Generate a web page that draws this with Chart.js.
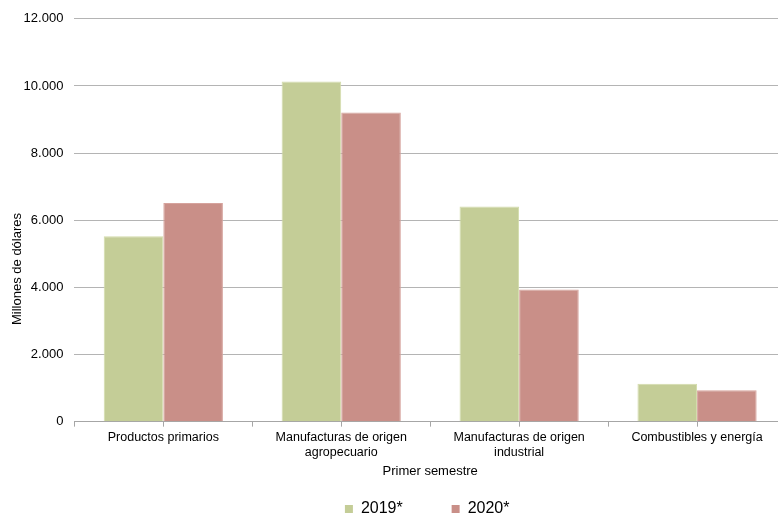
<!DOCTYPE html>
<html>
<head>
<meta charset="utf-8">
<script src="https://cdn.jsdelivr.net/npm/chart.js@4"></script>
<style>
  html, body { margin: 0; padding: 0; background: #fff; overflow: hidden; }
  #wrap { width: 786px; height: 527px; }
</style>
</head>
<body>
<div id="wrap"><canvas id="chart"></canvas></div>
<script>
const categories = [
  'Productos primarios',
  ['Manufacturas de origen', 'agropecuario'],
  ['Manufacturas de origen', 'industrial'],
  'Combustibles y energía'
];
const years = ['2019*', '2020*'];
const values2019 = [5520, 10130, 6410, 1130];
const values2020 = [6510, 9210, 3940, 935];
const yTicks = [0, 2000, 4000, 6000, 8000, 10000, 12000];

const font = "'Liberation Sans', Arial, sans-serif";
Chart.defaults.font.family = font;
Chart.defaults.color = '#000';

// legend centred under the visible plot, plus small tick marks at category centres
const extras = {
  id: 'extras',
  afterLayout(chart) {
    const lg = chart.legend, area = chart.chartArea;
    const dx = (area.left + 778) / 2 - (lg.left + lg.right) / 2 + 1;
    lg.left += dx; lg.right += dx;
  },
  afterDraw(chart) {
    const x = chart.scales.x, c = chart.ctx;
    c.save();
    c.fillStyle = '#a6a6a6';
    for (let i = 0; i < categories.length; i++) {
      const px = Math.round(x.getPixelForValue(i));
      c.fillRect(px, x.top, 1, 5);
    }
    c.restore();
  }
};

const ctx = document.getElementById('chart').getContext('2d');
const chart = new Chart(ctx, {
  type: 'bar',
  data: {
    labels: categories,
    datasets: [{
      label: years[0],
      data: values2019,
      backgroundColor: '#c4cd97',
      borderColor: '#d3dcaa',
      borderWidth: 1
    }, {
      label: years[1],
      data: values2020,
      backgroundColor: '#c98f88',
      borderColor: '#d6a39d',
      borderWidth: 1
    }]
  },
  plugins: [extras],
  options: {
    responsive: true,
    maintainAspectRatio: false,
    animation: false,
    layout: { padding: { top: 18, right: 0, left: 6, bottom: 0 } },
    datasets: {
      bar: { categoryPercentage: 0.67, barPercentage: 1 }
    },
    plugins: {
      tooltip: { enabled: false },
      legend: {
        position: 'bottom',
        labels: {
          boxWidth: 8,
          boxHeight: 8,
          padding: 0,
          font: { size: 16 },
          generateLabels: function(c) {
            const items = Chart.defaults.plugins.legend.labels.generateLabels(c);
            items.forEach(it => { it.lineWidth = 0; });
            items[0].text = items[0].text + '           ';
            return items;
          }
        }
      }
    },
    scales: {
      x: {
        grid: { display: true, drawOnChartArea: false, tickLength: 5, color: '#a6a6a6' },
        border: { color: '#a6a6a6' },
        ticks: { font: { size: 12.5, lineHeight: 1.15 }, maxRotation: 0, autoSkip: false, padding: 4 },
        title: { display: true, text: 'Primer semestre', font: { size: 13 }, padding: { top: 0, bottom: 22 } }
      },
      y: {
        min: 0,
        max: 12000,
        afterBuildTicks: function(axis) { axis.ticks = yTicks.map(v => ({ value: v })); },
        grid: { color: '#b4b4b4', drawTicks: false },
        border: { display: false },
        ticks: {
          font: { size: 13 },
          padding: 11,
          callback: v => v.toLocaleString('de-DE')
        },
        // trailing spaces push the rotated title below the axis centre, as in the original
        title: { display: true, text: 'Millones de dólares' + '\u00a0'.repeat(27), font: { size: 13 }, padding: { top: 4, bottom: -13 } }
      }
    }
  }
});
</script>
</body>
</html>
